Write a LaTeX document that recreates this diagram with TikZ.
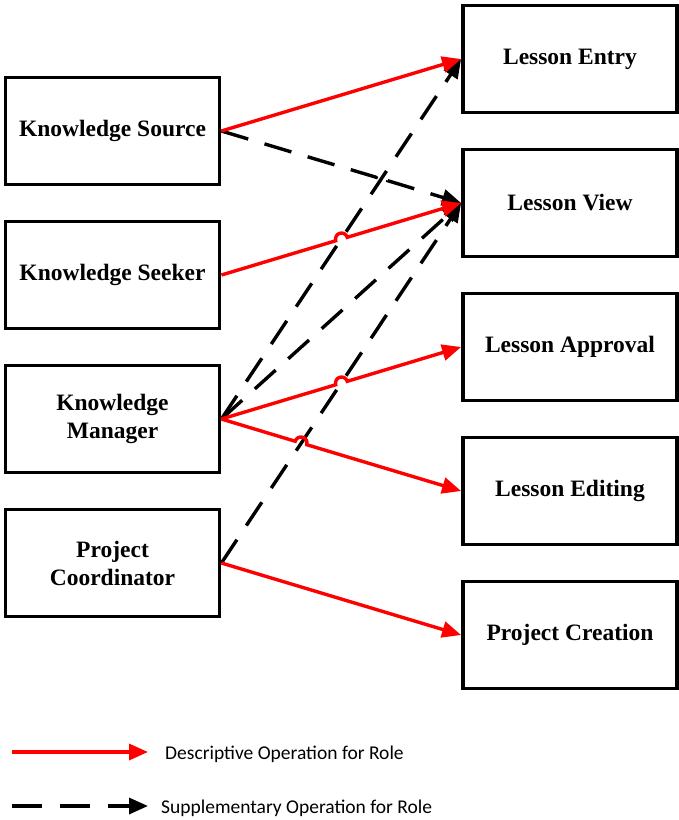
\documentclass[tikz,border=0pt]{standalone}
\usepackage{fontspec}
\setmainfont{Liberation Serif}
\newfontfamily\legendfont{Carlito}
\usetikzlibrary{arrows.meta,calc}
\definecolor{opred}{RGB}{255,0,0}
\begin{document}
\begin{tikzpicture}[x=1pt,y=1pt,
  rolebox/.style={draw=black,line width=3.8pt,minimum width=214pt,minimum height=107pt,
    align=center,font=\fontsize{23.5}{28}\selectfont\bfseries,inner sep=0pt},
  opbox/.style={rolebox},
  descop/.style={draw=opred,line width=3.4pt,-{Triangle[length=19pt,width=16pt]}},
  suppop/.style={draw=black,line width=3.4pt,dash pattern=on 28pt off 17pt,
    -{Triangle[length=19pt,width=16pt]}},
  legendtext/.style={anchor=west,font=\legendfont\fontsize{19.5}{22}\selectfont,inner sep=0pt}]
\useasboundingbox (0,0) rectangle (679,-820);

% roles
\node[rolebox] (source) at (112.5,-131) {Knowledge Source};
\node[rolebox] (seeker) at (112.5,-275) {Knowledge Seeker};
\node[rolebox] (manager) at (112.5,-419) {Knowledge\\Manager};
\node[rolebox] (coord) at (112.5,-563) {Project\\Coordinator};

% operations
\node[opbox] (entry) at (570,-59) {Lesson Entry};
\node[opbox] (view) at (570,-203) {Lesson View};
\node[opbox] (approval) at (570,-347) {Lesson Approval};
\node[opbox] (editing) at (570,-491) {Lesson Editing};
\node[opbox] (creation) at (570,-635) {Project Creation};

% crossing points where a line hops over another
\coordinate (hopA) at (341.5,-239);
\coordinate (hopB) at (341.5,-383);
\coordinate (hopC) at (301,-443);
\coordinate (hopD) at (382,-179);

% supplementary operations
\draw[suppop] (manager.east) -- (entry.west);
\draw[suppop] (manager.east) -- (view.west);
\draw[suppop] (coord.east) -- (view.west);
\draw[suppop] (source.east) -- ($(hopD)!6pt!(source.east)$)
  arc[start angle=163.5,end angle=-16.5,radius=6pt] -- (view.west);

% descriptive operations
\draw[descop] (source.east) -- (entry.west);
\draw[descop] (seeker.east) -- ($(hopA)!6pt!(seeker.east)$)
  arc[start angle=196.5,end angle=16.5,radius=6pt] -- (view.west);
\draw[descop] (manager.east) -- ($(hopB)!6pt!(manager.east)$)
  arc[start angle=196.5,end angle=16.5,radius=6pt] -- (approval.west);
\draw[descop] (manager.east) -- ($(hopC)!6pt!(manager.east)$)
  arc[start angle=163.5,end angle=-16.5,radius=6pt] -- (editing.west);
\draw[descop] (coord.east) -- (creation.west);

% legend
\coordinate (l1a) at (12,-752);
\coordinate (l1b) at (148,-752);
\coordinate (l2a) at (12,-806);
\coordinate (l2b) at (148,-806);
\draw[descop] (l1a) -- (l1b);
\node[legendtext] (l1t) at (165,-754) {Descriptive Operation for Role};
\draw[suppop,dash pattern=on 30pt off 18pt] (l2a) -- (l2b);
\node[legendtext] (l2t) at (161,-808) {Supplementary Operation for Role};
\end{tikzpicture}
\end{document}
